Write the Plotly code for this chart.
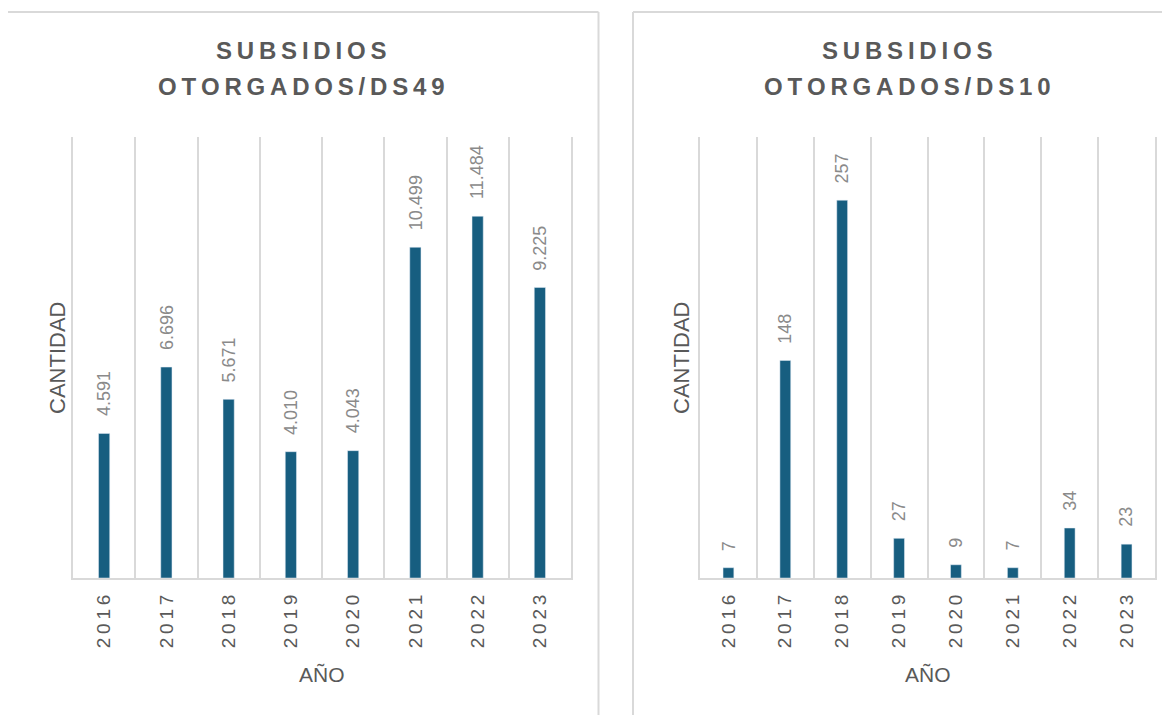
import plotly.graph_objects as go

# Data: subsidios otorgados por año
years = ["2016", "2017", "2018", "2019", "2020", "2021", "2022", "2023"]
ds49 = [4591, 6696, 5671, 4010, 4043, 10499, 11484, 9225]
ds10 = [7, 148, 257, 27, 9, 7, 34, 23]

titles = [["SUBSIDIOS", "OTORGADOS/DS49"], ["SUBSIDIOS", "OTORGADOS/DS10"]]
x_title = "AÑO"
y_title = "CANTIDAD"

W, H = 1170, 715
OFF = 8  # page body margin, compensated below
bar_color = "#175e80"
grid_color = "#d9d9d9"
text_dark = "#595959"
label_gray = "#8a8a8a"
FONT = "Liberation Sans, Arial, sans-serif"
THIN = "\u2009"


def px(x):
    return (x - OFF) / W


def py(y):
    return 1 - (y - OFF) / H


def spaced(s):
    # fake letter spacing with thin spaces
    return THIN.join(list(s))


def fmt(v):
    return f"{v:,}".replace(",", ".")


fig = go.Figure()
fig.add_trace(go.Bar(x=years, y=ds49, marker_color=bar_color, width=0.18,
                     xaxis="x", yaxis="y", showlegend=False, hoverinfo="x+y"))
fig.add_trace(go.Bar(x=years, y=ds10, marker_color=bar_color, width=0.19,
                     xaxis="x2", yaxis="y2", showlegend=False, hoverinfo="x+y"))

# plot area positions (pixels -> paper)
y_dom = [py(578), py(137)]
left_dom = [px(73), px(571)]
right_dom = [px(700), px(1155)]

xcommon = dict(type="category", tickson="boundaries", showgrid=True,
               gridcolor=grid_color, gridwidth=1.5, showline=True,
               linecolor=grid_color, linewidth=2, ticks="",
               tickangle=-90, tickvals=years,
               ticktext=[spaced(y) for y in years],
               tickfont=dict(family=FONT, size=19, color=text_dark),
               ticklabelstandoff=7,
               range=[-0.5, len(years) - 0.5], fixedrange=True)
ycommon = dict(showgrid=False, zeroline=False, showticklabels=False,
               showline=True, mirror=True, linecolor=grid_color,
               linewidth=1.5, fixedrange=True)

fig.update_layout(
    width=W, height=H,
    margin=dict(l=0, r=0, t=0, b=0),
    paper_bgcolor="white", plot_bgcolor="white",
    xaxis=dict(domain=left_dom, anchor="y", **xcommon),
    yaxis=dict(domain=y_dom, anchor="x", range=[0, 14000], **ycommon),
    xaxis2=dict(domain=right_dom, anchor="y2", **xcommon),
    yaxis2=dict(domain=y_dom, anchor="x2", range=[0, 300], **ycommon),
    font=dict(family=FONT),
)

annotations = []
# data labels, rotated, above each bar (x given as category index)
for xref, yref, vals in (("x", "y", ds49), ("x2", "y2", ds10)):
    for i, v in enumerate(vals):
        annotations.append(dict(
            x=i, y=v, xref=xref, yref=yref, text=fmt(v), showarrow=False,
            textangle=-90, yanchor="bottom", xanchor="center", yshift=15,
            font=dict(family=FONT, size=18, color=label_gray)))

# titles and axis titles
centers = [px(301), px(907)]
ytitle_x = [px(57), px(681)]
doms = [left_dom, right_dom]
for i in range(2):
    for line, ypix in zip(titles[i], (50, 86)):
        annotations.append(dict(
            x=centers[i], y=py(ypix), xref="paper", yref="paper",
            text="<b>" + spaced(line) + "</b>", showarrow=False,
            xanchor="center", yanchor="middle",
            font=dict(family=FONT, size=24, color=text_dark)))
    annotations.append(dict(
        x=(doms[i][0] + doms[i][1]) / 2, y=py(674), xref="paper", yref="paper",
        text=x_title, showarrow=False, xanchor="center", yanchor="middle",
        font=dict(family=FONT, size=21, color=text_dark)))
    annotations.append(dict(
        x=ytitle_x[i], y=py(358), xref="paper", yref="paper",
        text=y_title, showarrow=False, textangle=-90,
        xanchor="center", yanchor="middle",
        font=dict(family=FONT, size=22, color=text_dark)))

fig.update_layout(annotations=annotations)

# panel frames (kept inside the paper)
frame = dict(color=grid_color, width=2)
top = py(12)
shapes = [
    dict(type="line", xref="paper", yref="paper", x0=px(6), x1=px(6), y0=0, y1=top, line=frame),
    dict(type="line", xref="paper", yref="paper", x0=px(598.5), x1=px(598.5), y0=0, y1=top, line=frame),
    dict(type="line", xref="paper", yref="paper", x0=px(6), x1=px(598.5), y0=top, y1=top, line=frame),
    dict(type="line", xref="paper", yref="paper", x0=px(633), x1=px(633), y0=0, y1=top, line=frame),
    dict(type="line", xref="paper", yref="paper", x0=px(633), x1=1, y0=top, y1=top, line=frame),
]
fig.update_layout(shapes=shapes)

fig.write_html("out.html")
